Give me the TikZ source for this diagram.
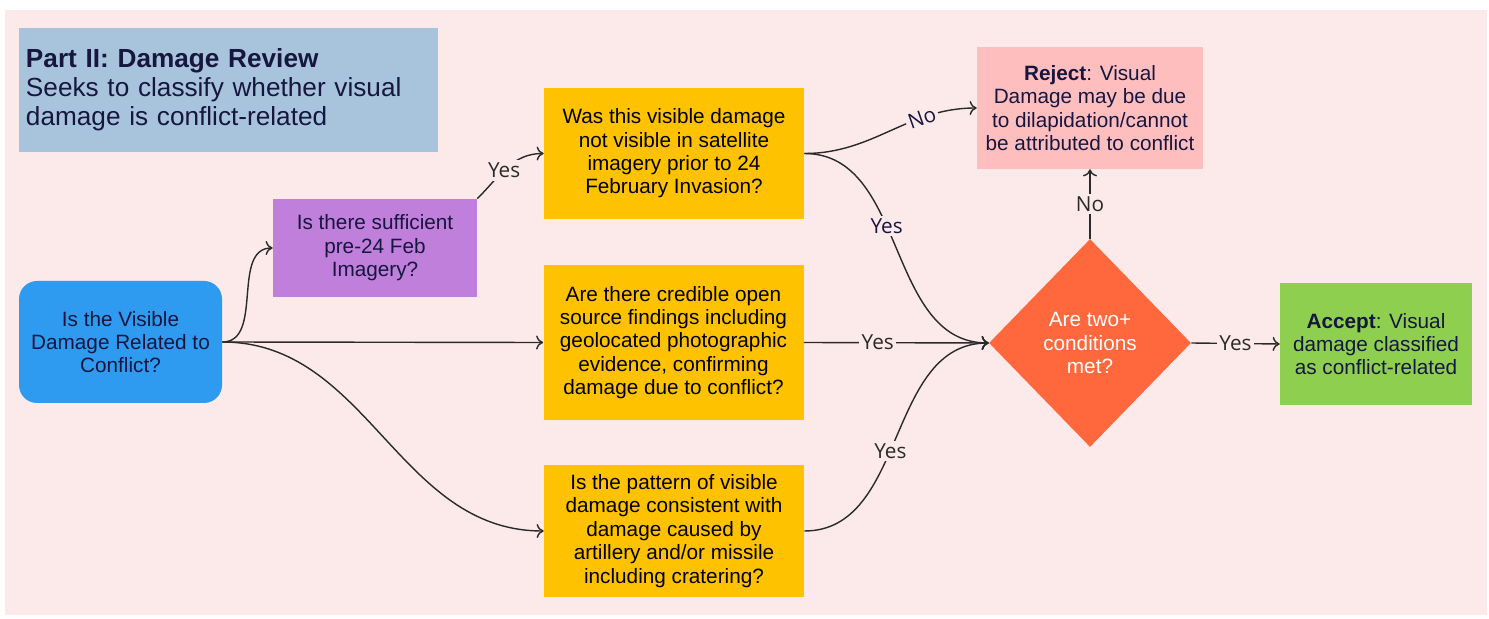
\documentclass[tikz,border=0pt]{standalone}
\usepackage{fontspec}
\setmainfont{Liberation Sans}
\newfontfamily\yesfont{Open Sans}
\usepackage{tikz}
\usetikzlibrary{shapes.geometric,arrows.meta}
\usetikzlibrary{positioning}
\definecolor{bgpink}{HTML}{FCEAEA}
\definecolor{steel}{HTML}{A8C4DD}
\definecolor{skyblue}{HTML}{2E9BF0}
\definecolor{lilac}{HTML}{BF7FDA}
\definecolor{amber}{HTML}{FFC200}
\definecolor{rose}{HTML}{FFBEBE}
\definecolor{coral}{HTML}{FF683C}
\definecolor{leaf}{HTML}{8FCF50}
\definecolor{navy}{HTML}{16163F}
\definecolor{linegray}{HTML}{2A2A2A}

\begin{document}
\begin{tikzpicture} [
                font = \fontsize{11.8}{13.3}\selectfont,
                box/.style = {align=center, inner sep=2pt, text=navy},
                query/.style = {box, fill=amber, text=black, minimum width=5.2cm},
                link/.style = {draw=linegray, line width=.8pt, -{To[length=4pt,width=8pt]}},
                lbl/.style = {fill=bgpink, inner sep=1.5pt, text=linegray, font=\yesfont\fontsize{11.8}{13.3}\selectfont}
            ]
            \useasboundingbox (0,0) rectangle (29.78,12.38);
            \fill [bgpink] (0.10,0.08) rectangle (29.74,12.18);
            \node (hdr) at (4.57,10.58) [fill=steel, minimum width=8.38cm, minimum height=2.48cm, text width=8.1cm, align=left, inner sep=0pt, text=navy, font=\fontsize{14.9}{16.5}\selectfont] {\textbf{Part II: Damage Review}\\Seeks to classify whether visual\\damage is conflict-related};
            \node (visible) at (2.41,5.54) [box, fill=skyblue, rounded corners=.36cm, minimum width=4.06cm, minimum height=2.44cm] {Is the Visible\\Damage Related to\\Conflict?};
            \node (prior) at (7.50,7.42) [box, fill=lilac, minimum width=4.08cm, minimum height=1.96cm] {Is there sufficient\\pre-24 Feb\\Imagery?};
            \node (before) at (13.48,9.31) [query, minimum height=2.62cm] {Was this visible damage\\not visible in satellite\\imagery prior to 24\\February Invasion?};
            \node (osint) at (13.47,5.53) [query, minimum height=3.1cm] {Are there credible open\\source findings including\\geolocated photographic\\evidence, confirming\\damage due to conflict?};
            \node (pattern) at (13.48,1.76) [query, minimum height=2.64cm] {Is the pattern of visible\\damage consistent with\\damage caused by\\artillery and/or missile\\including cratering?};
            \node (reject) at (21.8,10.22) [box, fill=rose, minimum width=4.52cm, minimum height=2.44cm] {\textbf{Reject}: Visual\\Damage may be due\\to dilapidation/cannot\\be attributed to conflict};
            \node (twoplus) at (21.8,5.52) [diamond, fill=coral, minimum width=4.04cm, minimum height=4.16cm, inner sep=0pt, align=center, text=white] {Are two+\\conditions\\met?};
            \node (accept) at (27.52,5.5) [box, fill=leaf, minimum width=3.84cm, minimum height=2.44cm] {\textbf{Accept}: Visual\\damage classified\\as conflict-related};
            % connectors
            \draw [link] (visible.east) to[out=0, in=180] (prior.west);
            \draw [link] (visible.east) -- (osint.west);
            \draw [link] (visible.east) to[out=0, in=180] (pattern.west);
            \draw [link] (prior.north east) to[out=45, in=180] node[lbl, pos=.45] (yes1) {Yes} (before.west);
            \draw [link] (before.east) to[out=0, in=180] node[lbl, pos=.7, sloped, text=navy] (no1) {No} (reject.west);
            \draw [link] (before.east) to[out=0, in=180] node[lbl, pos=.42, text=navy] (yes2) {Yes} (twoplus.west);
            \draw [link] (osint.east) -- node[lbl, pos=.4] (yes3) {Yes} (twoplus.west);
            \draw [link] (pattern.east) to[out=0, in=180] node[lbl, pos=.45] (yes4) {Yes} (twoplus.west);
            \draw [link] (twoplus.north) -- node[lbl] (no2) {No} (reject.south);
            \draw [link] (twoplus.east) -- node[lbl] (yes5) {Yes} (accept.west);
        \end{tikzpicture}
\end{document}
